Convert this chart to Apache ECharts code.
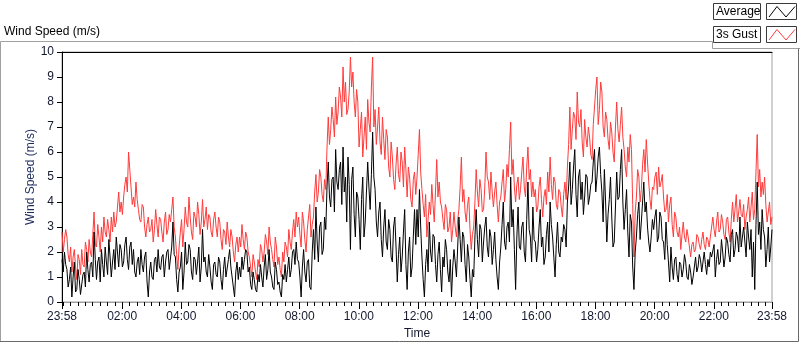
<!DOCTYPE html>
<html>
<head>
<meta charset="utf-8">
<script src="https://cdn.jsdelivr.net/npm/echarts@6/dist/echarts.min.js"></script>
<style>
  html, body { margin: 0; padding: 0; background: #fff; }
  #chart { width: 800px; height: 342px; }
</style>
</head>
<body>
<div id="chart"></div>
<script>
// one sample every 2.5 minutes, minute 0 = 23:58 of the previous day
const sampleStep = 2.5

// 3 s gust (red), one line per 2 hours
const gustSpeed = [
  2.8,2.0,2.5,2.9,2.6,1.9,1.6,2.2,1.2,1.8,2.1,1.4,0.9,1.9,1.7,1.1,2.1,1.5,1.4,2.4,2.1,1.6,2.5,2.0, 1.8,2.7,3.6,2.3,2.2,3.1,2.6,2.0,3.0,2.4,3.4,2.8,2.6,3.3,2.9,2.4,3.4,2.8,3.6,3.0,3.2,3.8,4.4,3.6,
  4.0,3.5,4.2,4.7,5.0,4.4,6.0,5.3,4.6,3.9,4.2,3.8,4.8,4.1,3.7,3.3,3.2,3.9,3.8,3.0,2.6,3.1,3.4,2.8, 2.9,3.3,2.4,2.9,3.7,3.1,2.6,3.4,3.3,2.8,2.4,3.2,3.6,2.7,2.9,3.5,3.2,3.7,4.2,3.0,2.6,1.9,1.3,2.2,
  2.8,3.3,2.2,2.9,3.8,3.2,3.0,4.2,3.4,2.8,2.5,3.6,3.4,3.0,4.0,3.5,2.7,3.2,4.1,3.0,3.3,3.8,2.9,3.5, 3.4,2.8,2.6,3.3,3.6,3.0,2.6,3.4,3.2,2.5,2.1,2.9,2.8,2.3,3.2,2.6,2.2,2.9,2.6,2.0,1.6,2.3,2.6,2.0,
  2.6,2.2,3.1,2.5,2.1,2.8,2.6,2.0,1.8,1.4,1.0,1.9,1.6,1.2,0.9,1.7,1.4,2.3,2.1,1.6,2.0,2.7,2.4,1.9, 3.0,2.4,2.1,1.7,1.4,2.6,2.2,1.5,1.8,1.3,1.0,2.0,1.6,2.4,2.2,1.8,2.9,2.4,2.1,2.8,3.3,2.6,3.6,3.0,
  3.4,2.7,2.2,3.6,3.2,2.5,2.0,2.9,3.4,3.9,2.6,3.1,3.4,4.4,5.1,4.0,4.4,5.3,5.0,4.3,4.0,4.9,4.5,6.2, 7.4,6.3,6.9,7.8,7.3,6.6,8.2,7.1,7.6,8.6,8.2,7.4,9.4,8.0,8.8,7.5,7.7,8.4,9.8,8.6,9.2,8.0,7.4,8.5,
  8.0,6.2,6.9,7.6,5.8,6.6,7.4,6.1,8.1,7.2,6.8,8.6,9.8,7.0,7.7,6.3,7.0,7.8,6.4,5.9,7.4,6.5,5.7,6.9, 6.6,5.4,5.0,6.4,5.8,4.9,4.5,5.5,6.2,5.1,4.8,6.0,5.6,4.6,6.2,5.3,4.2,5.4,5.0,4.1,3.8,4.9,5.2,4.3,
  5.0,5.9,6.9,5.2,4.5,3.9,3.4,4.3,2.6,3.3,4.0,3.5,4.7,3.9,3.2,4.4,5.7,4.2,4.8,4.0,3.8,3.3,2.9,3.9, 3.7,2.8,3.0,3.6,2.4,2.9,3.6,3.0,2.6,3.3,3.7,4.6,5.8,4.0,4.5,3.6,3.2,3.9,4.2,2.9,2.1,2.7,3.0,4.0,
  5.3,4.4,3.8,4.9,4.5,3.6,3.7,4.6,6.0,5.0,4.8,4.1,5.2,4.4,3.8,4.4,4.8,3.9,3.2,4.0,4.2,4.8,5.3,4.0, 4.5,5.5,5.0,6.1,7.2,5.1,5.7,4.6,4.0,4.7,5.0,4.1,4.5,5.2,5.8,4.6,4.2,5.4,6.2,4.9,5.3,4.2,4.8,4.2,
  4.5,3.6,3.8,4.6,5.0,4.1,3.4,4.2,4.5,3.9,5.2,4.4,5.8,4.7,4.1,5.0,4.8,3.9,3.7,4.5,4.4,3.8,3.4,4.3, 4.8,4.1,5.4,6.3,7.8,6.1,6.9,7.6,7.4,6.5,8.4,7.2,7.0,7.7,6.4,5.8,7.3,6.6,6.2,7.0,6.6,5.9,5.7,7.1,
  7.8,8.5,9.0,7.1,7.7,8.8,8.4,7.0,6.6,7.6,7.3,6.5,6.1,7.2,6.8,6.0,5.6,7.0,8.0,6.9,6.4,7.1,7.8,6.6, 6.1,5.4,5.0,6.2,5.6,6.7,6.1,3.9,1.8,3.6,4.2,5.3,5.0,4.0,4.5,5.5,6.1,5.2,6.5,5.6,4.8,4.1,3.7,4.6,
  4.5,5.0,5.2,4.3,5.4,4.6,4.8,5.1,4.2,3.6,3.7,4.3,3.2,3.9,4.2,3.1,2.6,3.6,3.4,2.8,2.6,3.0,2.1,2.7, 3.2,2.6,2.4,2.9,2.6,2.2,1.8,2.3,2.4,2.0,2.1,2.7,2.6,2.3,2.1,2.5,2.8,2.3,2.1,2.6,2.5,2.2,2.6,3.0,
  3.4,2.9,2.6,3.2,3.6,2.8,2.9,3.5,3.2,2.7,2.5,3.3,3.4,2.8,2.4,3.3,4.0,3.2,3.7,4.3,3.2,3.6,4.1,3.5, 3.4,3.9,2.9,3.4,3.7,4.2,3.2,3.8,4.4,3.3,3.7,5.2,6.7,4.6,5.3,4.2,4.8,4.3,5.0,3.9,3.2,3.6,4.0,3.1,3.4,
]

// average (black)
const avgSpeed = [
  1.7,1.2,2.0,1.5,1.3,0.6,0.9,1.4,0.2,1.0,1.6,0.4,0.5,1.3,0.9,0.3,0.3,1.1,1.2,0.6,2.0,1.3,0.8,1.5, 1.6,1.0,2.8,1.7,0.9,1.6,1.8,0.8,2.1,1.5,1.0,2.2,1.6,1.1,2.5,1.8,1.0,1.6,2.1,1.3,2.6,2.0,1.4,2.3,
  2.1,1.4,1.6,2.3,2.6,1.7,1.3,2.2,2.4,1.5,2.1,1.2,1.0,1.6,1.8,1.1,2.1,1.5,1.2,1.8,2.0,0.8,0.2,1.2, 1.6,1.0,0.9,1.7,1.8,1.2,2.1,1.4,1.3,1.8,1.9,1.0,1.6,2.0,2.1,1.3,1.3,2.2,3.2,1.9,1.8,0.9,0.4,1.2,
  1.4,2.0,0.5,1.2,2.4,1.5,1.6,2.3,2.1,1.2,0.9,1.8,1.7,1.1,1.6,2.2,0.8,1.4,2.9,1.6,1.8,1.2,1.0,1.9, 1.4,0.8,0.5,1.5,1.6,1.1,1.0,1.8,1.6,0.9,0.5,1.3,1.8,1.0,1.0,1.7,2.1,1.4,1.0,0.6,0.2,1.2,1.6,0.9,
  1.4,1.0,1.8,1.3,1.7,2.1,2.0,1.2,1.4,0.7,0.5,1.2,0.9,0.5,0.4,1.1,0.8,1.5,1.0,0.6,1.4,1.9,0.9,1.3, 2.1,1.2,1.0,0.6,0.5,1.6,1.3,0.7,0.8,0.4,0.2,1.1,0.9,1.5,0.8,1.3,1.8,1.0,1.3,2.0,2.1,1.5,2.4,1.7,
  1.6,1.0,0.2,1.4,2.1,1.2,0.8,1.6,1.7,0.6,0.5,2.0,2.9,1.7,3.8,2.4,1.6,3.0,3.2,1.9,2.1,3.4,2.9,4.6, 5.6,4.2,3.8,4.9,5.0,3.6,6.1,4.8,4.5,5.3,5.6,3.9,6.2,4.4,5.0,3.2,5.8,4.7,2.1,4.9,5.4,3.5,2.6,4.4,
  4.2,3.3,2.1,4.1,5.0,2.6,3.2,4.4,5.6,4.6,3.7,5.1,6.8,5.0,4.5,3.2,2.6,3.6,4.0,2.5,1.8,3.0,3.7,2.4, 2.1,3.3,2.9,1.8,1.6,3.0,3.4,2.2,0.8,1.9,2.6,1.2,1.8,2.8,3.7,1.5,0.5,2.0,2.6,1.0,1.4,2.6,3.7,2.3,
  3.7,2.6,4.5,3.0,1.8,0.9,0.2,1.5,2.1,1.2,3.2,2.0,1.6,2.7,2.6,1.5,0.8,1.9,2.4,1.3,0.4,1.8,1.4,2.5, 2.1,1.2,0.8,1.7,0.2,1.4,2.1,1.6,1.0,2.2,3.4,2.5,1.6,2.8,2.6,1.5,0.8,2.3,1.8,0.9,0.2,1.3,1.0,2.6,
  3.7,2.5,1.8,3.1,2.9,1.6,2.4,3.0,3.4,2.2,1.8,2.9,2.6,1.5,2.1,2.8,1.7,1.0,0.5,1.6,2.2,3.1,4.0,2.4, 2.1,3.0,3.2,2.4,5.0,3.0,3.7,2.1,0.5,2.6,3.8,2.2,2.1,3.0,3.2,2.0,1.6,3.3,4.8,2.9,2.6,1.6,3.8,2.5,
  2.4,1.6,2.1,3.0,3.7,2.2,2.6,1.5,1.8,2.7,3.2,2.0,4.0,3.1,2.6,1.8,1.0,2.3,3.2,2.0,1.8,2.6,2.4,3.1, 2.9,2.2,4.0,4.6,5.6,3.9,4.5,5.4,6.1,4.3,3.4,5.0,5.3,4.1,4.8,3.5,4.2,5.1,5.0,3.9,4.2,4.7,4.8,5.6,
  6.1,4.4,5.0,5.8,6.2,5.1,4.4,3.2,5.3,4.0,2.4,3.5,4.1,5.0,3.4,2.2,2.4,3.8,5.2,4.1,4.2,5.3,6.1,4.0, 2.9,3.7,4.5,2.8,1.8,3.5,3.2,1.4,0.5,2.0,2.6,3.5,4.0,2.5,3.2,4.0,4.8,3.6,4.0,3.0,2.4,2.0,2.6,3.3,
  2.9,3.4,3.7,2.4,2.6,3.6,3.4,2.5,2.4,1.7,3.2,2.3,1.6,0.8,2.2,1.4,0.9,1.7,1.8,1.1,0.8,1.6,1.5,1.0, 1.3,1.9,1.6,1.0,0.9,1.5,1.2,0.7,1.0,1.4,1.8,1.2,1.4,1.9,1.7,1.2,1.6,2.0,1.5,1.1,1.7,1.4,2.0,1.8,
  1.8,2.3,1.0,1.7,2.1,1.5,1.6,2.5,2.0,1.4,1.8,2.6,2.4,1.9,1.6,2.7,2.9,1.8,2.1,2.8,2.6,2.0,3.4,2.2, 2.6,3.0,2.4,1.8,3.2,2.6,2.1,2.9,1.0,2.4,0.5,3.1,4.8,2.7,3.2,2.1,3.7,2.9,2.6,1.4,2.1,3.0,1.6,2.2,2.9,
]

const tickLabels = ['23:58','02:00','04:00','06:00','08:00','10:00','12:00','14:00','16:00','18:00','20:00','22:00','23:58']
const tickMinutes = [0, 122, 242, 362, 482, 602, 722, 842, 962, 1082, 1202, 1322, 1440]

const FONT = 'Liberation Sans'
const labelColor = '#14182e'

// minor ticks every 15 min, lined up on the labelled hours
const minorTicks = []
for (let m = 2; m < 1440; m += 15) minorTicks.push(m)

const toPairs = (arr) => arr.map((v, i) => [i * sampleStep, v])

const legendRow = (y, name, color) => [
  { type: 'rect', shape: { x: 713.5, y: y + 0.5, width: 47, height: 16 },
    style: { fill: '#fff', stroke: '#3a3a3a', lineWidth: 1 } },
  { type: 'text', x: 716, y: y + 9, style: { text: name, font: `12px "${FONT}"`, fill: '#000', verticalAlign: 'middle' } },
  { type: 'rect', shape: { x: 766.5, y: y + 0.5, width: 30, height: 16 },
    style: { fill: '#fff', stroke: '#3a3a3a', lineWidth: 1 } },
  { type: 'polyline', shape: { points: [[769, y + 14], [777, y + 3.5], [786, y + 14], [795, y + 3.5]] },
    style: { stroke: color, lineWidth: 1, fill: null } },
]

const buildOption = () => ({
  animation: false,
  backgroundColor: '#fff',
  textStyle: { fontFamily: FONT },
  grid: {
    left: 62, right: 28, top: 52, bottom: 40,
    outerBoundsMode: 'none',
    show: true, borderColor: '#a0a0a0', borderWidth: 1, backgroundColor: '#fff',
  },
  graphic: [
    { type: 'polyline', shape: { points: [[0.5, 342], [0.5, 41.5], [712.5, 41.5], [712.5, 48.5], [800, 48.5]] },
      style: { stroke: '#a0a0a0', lineWidth: 1, fill: null } },
    { type: 'polyline', shape: { points: [[798.5, 48.5], [798.5, 341.5], [0, 341.5]] },
      style: { stroke: '#6a6a6a', lineWidth: 1, fill: null } },
    { type: 'text', x: 4, y: 32, style: { text: 'Wind Speed (m/s)', font: `12px "${FONT}"`, fill: '#000', verticalAlign: 'middle' } },
    ...legendRow(3, 'Average', '#000'),
    ...legendRow(26, '3s Gust', '#ff3b3b'),
  ],
  xAxis: [
    {
      type: 'value', min: 0, max: 1440,
      name: 'Time', nameLocation: 'middle', nameGap: 25,
      nameTextStyle: { color: labelColor, fontSize: 12, fontFamily: FONT },
      axisLine: { show: true, lineStyle: { color: '#a0a0a0' } },
      axisTick: { show: true, customValues: tickMinutes, length: 7, lineStyle: { color: '#000' } },
      axisLabel: {
        customValues: tickMinutes, showMinLabel: true, showMaxLabel: true,
        color: labelColor, fontSize: 12, fontFamily: FONT, margin: 9,
        formatter: (v) => tickLabels[tickMinutes.indexOf(v)] || '',
      },
      splitLine: { show: false },
    },
    {
      type: 'value', min: 0, max: 1440, position: 'bottom',
      axisLine: { show: false },
      axisTick: { show: true, customValues: minorTicks, length: 4, lineStyle: { color: '#000' } },
      axisLabel: { show: false },
      splitLine: { show: false },
    },
    {
      type: 'value', min: 0, max: 1440, position: 'top',
      axisLine: { show: true, lineStyle: { color: '#000' } },
      axisTick: { show: false }, axisLabel: { show: false }, splitLine: { show: false },
    },
  ],
  yAxis: {
    type: 'value', min: 0, max: 10, interval: 1,
    name: 'Wind Speed (m/s)', nameLocation: 'middle', nameGap: 25, nameRotate: 90,
    nameMoveOverlap: false,
    nameTextStyle: { color: '#1d2a5c', fontSize: 12, fontFamily: FONT },
    axisLine: { show: true, lineStyle: { color: '#000' } },
    axisTick: { show: true, length: 5, lineStyle: { color: '#000' } },
    axisLabel: { color: labelColor, fontSize: 12, fontFamily: FONT, margin: 8 },
    splitLine: { show: false },
  },
  series: [
    {
      name: '3s Gust', type: 'line', data: toPairs(gustSpeed),
      showSymbol: false, symbol: 'none',
      lineStyle: { color: '#ff3b3b', width: 1 },
    },
    {
      name: 'Average', type: 'line', data: toPairs(avgSpeed),
      showSymbol: false, symbol: 'none',
      lineStyle: { color: '#000', width: 1 },
    },
  ],
})

const chart = echarts.init(document.getElementById('chart'), null, { renderer: 'canvas' })
chart.setOption(buildOption())
</script>
</body>
</html>
